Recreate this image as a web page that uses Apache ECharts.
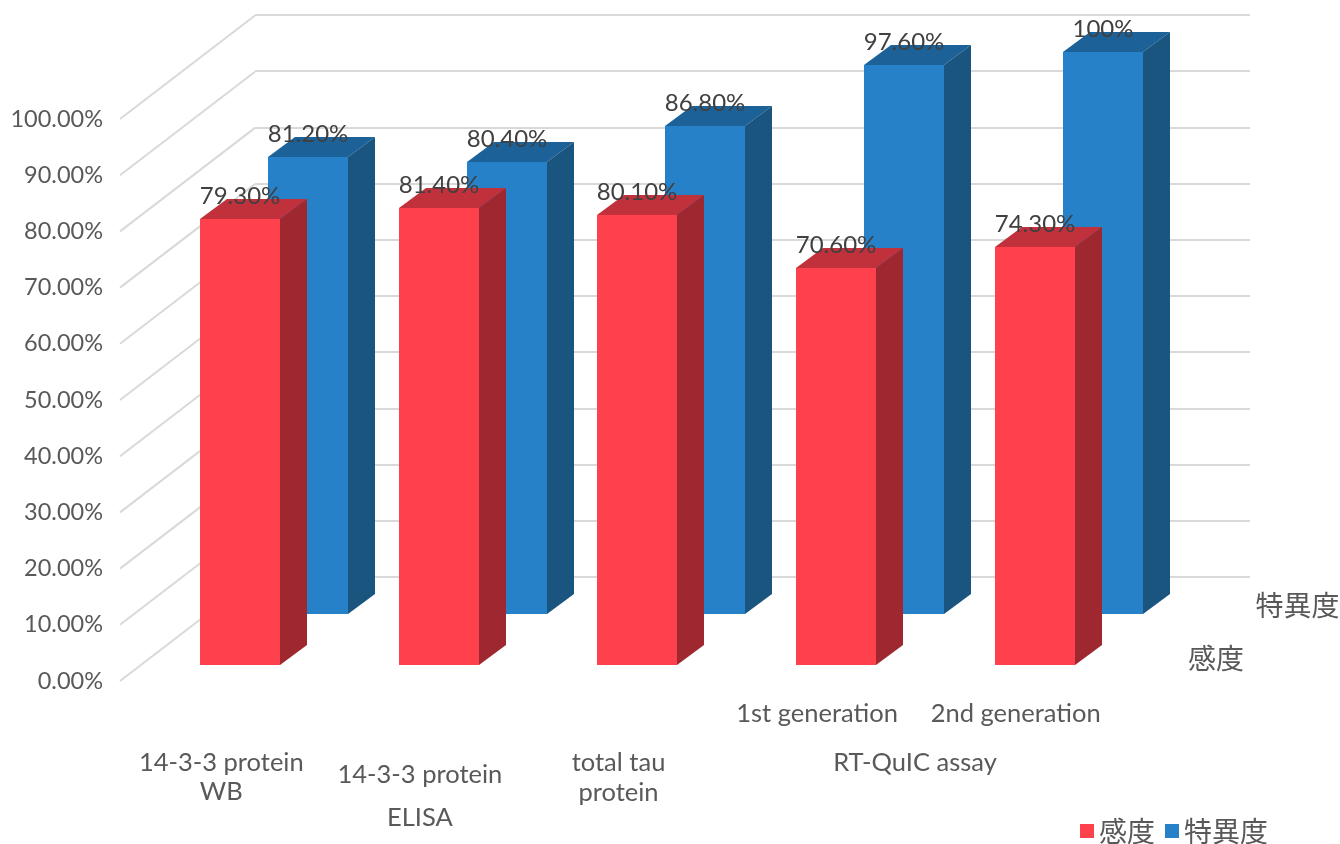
<!DOCTYPE html>
<html>
<head>
<meta charset="utf-8">
<style>
  html, body { margin: 0; background: #fff; }
  #chart { width: 1340px; height: 844px; }
</style>
<script src="https://cdn.jsdelivr.net/npm/echarts@6/dist/echarts.min.js"></script>
</head>
<body>
<div id="chart"></div>
<script>
var categories = ['14-3-3 protein\nWB', '14-3-3 protein\nELISA', 'total tau\nprotein', '1st generation', '2nd generation'];
var sensitivity = [79.3, 81.4, 80.1, 70.6, 74.3];
var specificity = [81.2, 80.4, 86.8, 97.6, 100];
var sensitivityLabels = ['79.30%', '81.40%', '80.10%', '70.60%', '74.30%'];
var specificityLabels = ['81.20%', '80.40%', '86.80%', '97.60%', '100%'];
var yTicks = [0, 10, 20, 30, 40, 50, 60, 70, 80, 90, 100];

var latin = 'Lato, "Noto Sans CJK JP", sans-serif';
var cjk = '"Noto Sans CJK JP", sans-serif';
var grey = '#595959';
var wallColor = '#D9D9D9';

// one 3d bar: front + top + side, the offsets push it back into the depth of the chart
function bar3d(values, labels, dx, dy, colors) {
  return function (params, api) {
    var i = api.value(0);
    var base = api.coord([i, 0]);
    var top = api.coord([i, api.value(1)]);
    var w = 80, dw = 27, dh = 20;
    var l = Math.round(base[0] + dx - w / 2), r = l + w;
    var y0 = Math.round(base[1] + dy), y1 = Math.round(top[1] + dy);
    return {
      type: 'group',
      children: [
        { type: 'rect', shape: { x: l, y: y1, width: w, height: y0 - y1 }, style: { fill: colors[0] } },
        { type: 'polygon', shape: { points: [[l, y1], [l + dw, y1 - dh], [r + dw, y1 - dh], [r, y1]] }, style: { fill: colors[1] } },
        { type: 'polygon', shape: { points: [[r, y1], [r + dw, y1 - dh], [r + dw, y0 - dh], [r, y0]] }, style: { fill: colors[2] } },
        { type: 'text', x: l + 40, y: y1 - 23, style: { text: labels[i], font: '24px ' + latin, fill: '#404040', align: 'center', verticalAlign: 'middle' } }
      ]
    };
  };
}

function toData(values) {
  return values.map(function (v, i) { return [i, v]; });
}

var labelStyles = ['wb', 'elisa', 'tau', 'gen', 'gen'];

var chart = echarts.init(document.getElementById('chart'));

chart.setOption({
  animation: false,
  backgroundColor: '#fff',
  grid: [
    { left: 120, top: 119, width: 993, height: 562, outerBoundsMode: 'none' },
    { left: 255, top: 15, width: 995, height: 562, outerBoundsMode: 'none' }
  ],
  xAxis: [
    {
      type: 'category', gridIndex: 0, data: categories,
      axisLine: { show: false }, axisTick: { show: false },
      axisLabel: {
        interval: 0, margin: 11, verticalAlign: 'top', color: grey, padding: [0, 0, 0, 4],
        formatter: function (value, i) {
          var lines = value.split('\n');
          var s = labelStyles[i];
          if (s === 'gen') return '{gen|' + lines[0] + '}';
          return '{' + s + 'Gap|\u00a0}\n{line|' + lines[0] + '}\n{' + s + '2|' + lines[1] + '}';
        },
        rich: {
          gen: { fontFamily: latin, fontSize: 25.5, color: grey, lineHeight: 44 },
          wbGap: { fontSize: 12, lineHeight: 57 },
          elisaGap: { fontSize: 12, lineHeight: 69 },
          tauGap: { fontSize: 12, lineHeight: 57 },
          line: { fontFamily: latin, fontSize: 25.5, color: grey, lineHeight: 28 },
          wb2: { fontFamily: latin, fontSize: 25.5, color: grey, lineHeight: 30 },
          elisa2: { fontFamily: latin, fontSize: 25.5, color: grey, lineHeight: 58 },
          tau2: { fontFamily: latin, fontSize: 25.5, color: grey, lineHeight: 32 }
        }
      }
    },
    { type: 'category', gridIndex: 1, data: categories, axisLine: { show: false }, axisTick: { show: false }, axisLabel: { show: false } }
  ],
  yAxis: [
    {
      type: 'value', gridIndex: 0, min: 0, max: 100, interval: 10,
      axisLine: { show: false }, axisTick: { show: false }, splitLine: { show: false },
      axisLabel: {
        margin: 17, color: grey, fontFamily: latin, fontSize: 23.5, padding: [5, 0, 0, 0],
        formatter: function (v) { return v.toFixed(2) + '%'; }
      }
    },
    {
      type: 'value', gridIndex: 1, min: 0, max: 100, interval: 10,
      axisLine: { show: false }, axisTick: { show: false }, axisLabel: { show: false },
      splitLine: { lineStyle: { color: wallColor, width: 2 } }
    }
  ],
  legend: {
    data: ['感度', '特異度'], left: 1075, top: 812, icon: 'rect',
    itemWidth: 14, itemHeight: 14, itemGap: 10, selectedMode: false,
    textStyle: { fontFamily: cjk, fontSize: 28, color: grey }
  },
  graphic: [
    { type: 'text', x: 915, y: 763, style: { text: 'RT-QuIC assay', font: '25.5px ' + latin, fill: grey, align: 'center', verticalAlign: 'middle' } },
    { type: 'text', x: 1216, y: 658, style: { text: '感度', font: '28px ' + cjk, fill: grey, align: 'center', verticalAlign: 'middle' } },
    { type: 'text', x: 1297.5, y: 605, style: { text: '特異度', font: '28px ' + cjk, fill: grey, align: 'center', verticalAlign: 'middle' } }
  ],
  series: [
    {
      name: 'wall', type: 'custom', z: 1, silent: true,
      data: yTicks.map(function (t) { return [0, t]; }),
      renderItem: function (params, api) {
        var p = api.coord([0, api.value(1)]);
        var x = params.coordSys.x;
        return { type: 'line', shape: { x1: x, y1: p[1], x2: x + 135, y2: p[1] - 103.5 }, style: { stroke: wallColor, lineWidth: 2 } };
      }
    },
    {
      name: '感度', type: 'custom', z: 4, itemStyle: { color: '#FF404D' },
      data: toData(sensitivity),
      renderItem: bar3d(sensitivity, sensitivityLabels, 20.9, -16, ['#FF404D', '#C0313B', '#9F2830'])
    },
    {
      name: '特異度', type: 'custom', z: 3, itemStyle: { color: '#2681C8' },
      data: toData(specificity),
      renderItem: bar3d(specificity, specificityLabels, 88.9, -67.5, ['#2681C8', '#1C6198', '#19557F'])
    }
  ]
});
</script>
</body>
</html>
